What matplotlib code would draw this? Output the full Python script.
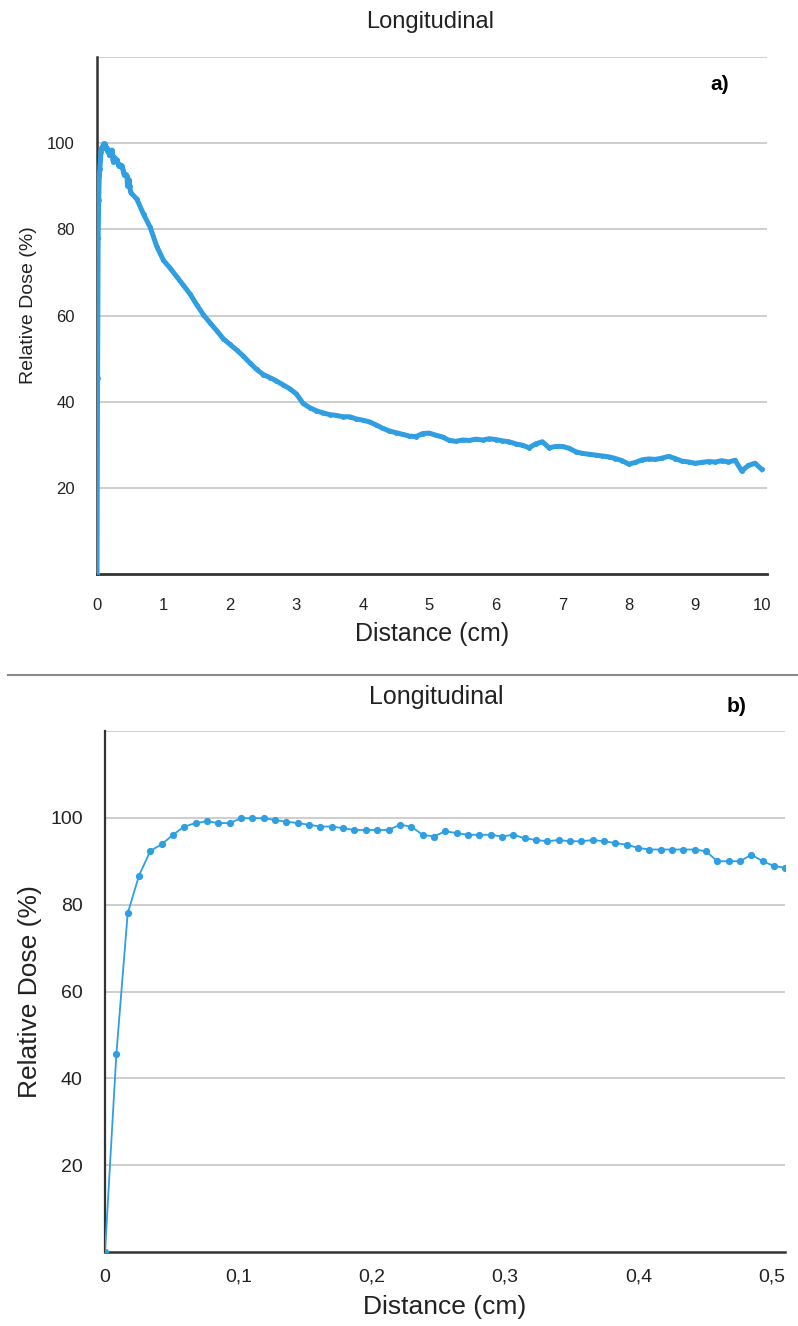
import numpy as np
import matplotlib
matplotlib.use('Agg')
from matplotlib import pyplot as plt
from matplotlib.lines import Line2D

plt.rcParams['font.family'] = ['Liberation Sans', 'DejaVu Sans']

# near-surface profile (step 0.0085 cm), used in b) and as the start of a)
near_step = 0.0085
near_dose = [0, 45.5, 78, 86.7, 92.4, 93.9, 96.1, 98.0, 98.8, 99.2, 98.8, 98.8,
             99.9, 99.9, 99.9, 99.5, 99.1, 98.8, 98.4, 98.0, 98.0, 97.6, 97.2,
             97.2, 97.2, 97.2, 98.4, 98.0, 96.1, 95.7, 96.9, 96.5, 96.1, 96.1,
             96.1, 95.7, 96.1, 95.3, 94.9, 94.6, 94.9, 94.6, 94.6, 94.9, 94.6,
             94.2, 93.8, 93.1, 92.7, 92.7, 92.7, 92.7, 92.7, 92.3, 90.0, 90.0,
             90.0, 91.5, 90.0, 88.9, 88.5]
near_dist = np.arange(len(near_dose)) * near_step

# rest of the longitudinal profile, every 0.1 cm from 0.6 cm
far_dist = np.round(np.arange(0.6, 10.05, 0.1), 1)
far_dose = [87.0, 83.5, 80.5, 76.0, 72.8, 71.0, 69.0, 67.0, 65.0, 62.5,
            60.2, 58.3, 56.5, 54.6, 53.3, 52.0, 50.6, 49.0, 47.5, 46.3,
            45.6, 44.8, 43.9, 43.0, 41.8, 39.6, 38.6, 37.9, 37.4, 37.0,
            36.8, 36.5, 36.5, 36.0, 35.7, 35.3, 34.6, 33.8, 33.2, 32.8,
            32.4, 32.0, 31.9, 32.6, 32.7, 32.2, 31.8, 31.0, 30.8, 31.1,
            31.0, 31.3, 31.1, 31.4, 31.2, 30.9, 30.7, 30.2, 29.9, 29.3,
            30.2, 30.7, 29.3, 29.6, 29.6, 29.2, 28.4, 28.0, 27.8, 27.6,
            27.4, 27.2, 26.8, 26.3, 25.5, 25.9, 26.5, 26.7, 26.6, 26.9,
            27.3, 26.8, 26.2, 26.0, 25.7, 25.9, 26.1, 26.0, 26.3, 26.0,
            26.4, 23.9, 25.2, 25.7, 24.3]

y_ticks = [20, 40, 60, 80, 100, 120]
y_labels = ['20', '40', '60', '80', '100', '']
xa_ticks = list(range(0, 11))
xb_ticks = [0, 0.1, 0.2, 0.3, 0.4, 0.5]
xb_labels = ['0', '0,1', '0,2', '0,3', '0,4', '0,5']

blue = '#2F9FE2'
grid_c = '#C6C6C6'

fig = plt.figure(figsize=(7.98, 13.26), dpi=100)

# ---- a) ----
ax1 = fig.add_axes([97/798, 1-574/1326, 670/798, 517/1326])
x_all = np.concatenate([near_dist, far_dist])
y_all = np.concatenate([near_dose, far_dose])
ax1.plot(x_all, y_all, color=blue, lw=3.6, marker='o', ms=2.5, mec=blue, mfc=blue,
         solid_joinstyle='round', zorder=3)
ax1.set_xlim(0, 10.08)
ax1.set_ylim(0, 120)
ax1.set_yticks(y_ticks)
ax1.set_yticklabels(y_labels)
ax1.set_xticks(xa_ticks)
ax1.grid(axis='y', color=grid_c, lw=1.2)
ax1.set_axisbelow(True)
for s in ['top', 'right']:
    ax1.spines[s].set_visible(False)
ax1.spines['left'].set_color('#333333')
ax1.spines['left'].set_linewidth(1.8)
ax1.spines['bottom'].set_color('#333333')
ax1.spines['bottom'].set_linewidth(2)
ax1.tick_params(axis='both', length=0, labelsize=12, colors='#222222')
ax1.tick_params(axis='y', pad=16)
ax1.tick_params(axis='x', pad=17)
ax1.set_xlabel('Distance (cm)', fontsize=18, color='#222222', labelpad=7)
ax1.set_ylabel('Relative Dose (%)', fontsize=14, color='#222222')
ax1.yaxis.set_label_coords(-0.09, 0.52)
fig.text(430/798, 1-22/1326, 'Longitudinal', fontsize=17, ha='center', va='center', color='#222222')
fig.text(720/798, 1-85/1326, 'a)', fontsize=15, fontweight='bold', ha='center', va='center')

# separator
fig.add_artist(Line2D([0.01, 1.0], [1-675/1326, 1-675/1326], color='#8A8A8A', lw=1.5))

# ---- b) ----
ax2 = fig.add_axes([105/798, 1-1252/1326, 680/798, 521/1326])
ax2.plot(near_dist, near_dose, color=blue, lw=1.3, marker='o', ms=4.2, mec=blue, mfc=blue, zorder=3)
ax2.set_xlim(0, 0.5097)
ax2.set_ylim(0, 120)
ax2.set_yticks(y_ticks)
ax2.set_yticklabels(y_labels)
ax2.set_xticks(xb_ticks)
ax2.set_xticklabels(xb_labels)
ax2.grid(axis='y', color=grid_c, lw=1.2)
ax2.set_axisbelow(True)
for s in ['top', 'right']:
    ax2.spines[s].set_visible(False)
ax2.spines['left'].set_color('#333333')
ax2.spines['left'].set_linewidth(1.6)
ax2.spines['bottom'].set_color('#333333')
ax2.spines['bottom'].set_linewidth(1.8)
ax2.tick_params(axis='both', length=0, labelsize=14, colors='#222222')
ax2.tick_params(axis='y', pad=16)
ax2.tick_params(axis='x', pad=12)
ax2.set_xlabel('Distance (cm)', fontsize=19, color='#222222', labelpad=7)
ax2.set_ylabel('Relative Dose (%)', fontsize=19, color='#222222')
ax2.yaxis.set_label_coords(-0.092, 0.5)
fig.text(436/798, 1-697/1326, 'Longitudinal', fontsize=18, ha='center', va='center', color='#222222')
fig.text(737/798, 1-706/1326, 'b)', fontsize=15, fontweight='bold', ha='center', va='center')

fig.savefig('out.png', dpi=100)
